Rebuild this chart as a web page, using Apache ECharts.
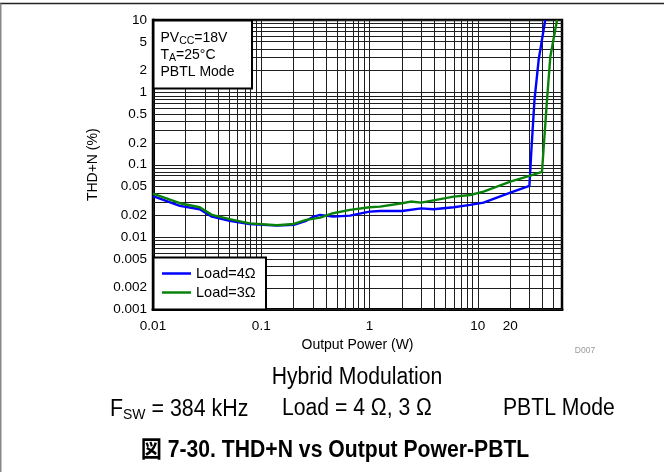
<!DOCTYPE html>
<html>
<head>
<meta charset="utf-8">
<script src="https://cdn.jsdelivr.net/npm/echarts@6/dist/echarts.min.js"></script>
<style>
html,body{margin:0;padding:0;background:#fff;}
#chart{width:664px;height:472px;}
</style>
</head>
<body>
<div id="chart"></div>
<script>
// ---- data ----
const seriesNames = ['Load=4Ω', 'Load=3Ω'];
const power4 = [0.01, 0.0177, 0.027, 0.035, 0.051, 0.078, 0.14, 0.2, 0.26, 0.3, 0.35, 0.46, 0.66, 1.0, 1.25, 2.0, 3.0, 3.9, 6.0, 8.5, 11.3, 20, 30, 31.3, 33.4, 36.5, 42];
const thd4   = [0.037, 0.027, 0.0243, 0.0192, 0.0168, 0.0152, 0.0144, 0.0148, 0.0168, 0.019, 0.0203, 0.0192, 0.0198, 0.0225, 0.023, 0.023, 0.025, 0.0243, 0.0259, 0.0279, 0.030, 0.0412, 0.051, 0.16, 0.78, 2.8, 10];
const power3 = [0.01, 0.0177, 0.027, 0.035, 0.051, 0.078, 0.14, 0.2, 0.26, 0.35, 0.46, 0.66, 1.0, 1.25, 2.0, 2.4, 3.0, 6.0, 8.5, 11.3, 20, 30, 39.2, 43.6, 46.8, 54];
const thd3   = [0.040, 0.0294, 0.0259, 0.0203, 0.0177, 0.0155, 0.0146, 0.0152, 0.0173, 0.0186, 0.0214, 0.0238, 0.0259, 0.0264, 0.0294, 0.031, 0.030, 0.0363, 0.0382, 0.0425, 0.0585, 0.070, 0.080, 0.785, 3.1, 10];

// ---- axes ----
const xRange = [0.01, 60];
const yRange = [0.001, 10];
const xTickLabels = [0.01, 0.1, 1, 10, 20];
const yTickLabels = [10, 5, 2, 1, 0.5, 0.2, 0.1, 0.05, 0.02, 0.01, 0.005, 0.002, 0.001];
const xDecades = [0.01, 0.1, 1, 10];
const yDecades = [0.001, 0.01, 0.1, 1];
const gridMultipliers = [1, 2, 3, 4, 5, 6, 7, 8, 9];

const L = Math.log10;
function labelFor(list, v) {
  let best = list[0], bd = Infinity;
  list.forEach(t => { const d = Math.abs(L(t) - v); if (d < bd) { bd = d; best = t; } });
  return String(best);
}
function gridValues(decades, range) {
  const out = [];
  decades.forEach(d => gridMultipliers.forEach(m => {
    const v = m * d;
    if (v >= range[0] * 0.9999 && v <= range[1] * 1.0001) out.push(v);
  }));
  out.push(range[1]);
  return out;
}
const xGrid = gridValues(xDecades, xRange);
const yGrid = gridValues(yDecades, yRange);

const FONT = '"Liberation Sans", Arial, Helvetica, sans-serif';

const chart = echarts.init(document.getElementById('chart'), null, {renderer: 'canvas'});
const option = {
  animation: false,
  backgroundColor: '#fff',
  grid: {left: 153, top: 20, right: 102, bottom: 162.5, show: true, borderColor: '#000', borderWidth: 2.5, backgroundColor: 'transparent'},
  xAxis: {
    type: 'value', min: L(xRange[0]), max: L(xRange[1]),
    name: 'Output Power (W)', nameLocation: 'middle', nameGap: 27,
    nameTextStyle: {fontFamily: FONT, fontSize: 14, color: '#000'},
    axisLine: {show: true, onZero: false, lineStyle: {color: '#000', width: 3}},
    axisTick: {show: false},
    splitLine: {show: false},
    axisLabel: {customValues: xTickLabels.map(L), formatter: v => labelFor(xTickLabels, v),
      fontFamily: FONT, fontSize: 13.5, color: '#000', margin: 10}
  },
  yAxis: {
    type: 'value', min: L(yRange[0]), max: L(yRange[1]),
    name: 'THD+N (%)', nameLocation: 'middle', nameGap: 53, nameRotate: 90,
    nameTextStyle: {fontFamily: FONT, fontSize: 14, color: '#000'},
    axisLine: {show: true, onZero: false, lineStyle: {color: '#000', width: 3}},
    axisTick: {show: false},
    splitLine: {show: false},
    axisLabel: {customValues: yTickLabels.map(L), formatter: v => labelFor(yTickLabels, v),
      fontFamily: FONT, fontSize: 13.5, color: '#000', margin: 6}
  },
  legend: {
    data: seriesNames, orient: 'vertical', left: 162, top: 266, z: 30,
    icon: 'rect', itemWidth: 29, itemHeight: 2.5, itemGap: 4, padding: 0,
    textStyle: {fontFamily: FONT, fontSize: 14.5, color: '#000', lineHeight: 14}
  },
  series: [
    {
      type: 'line', name: 'grid', data: [], silent: true, z: 1,
      markLine: {
        z: 1, silent: true, symbol: ['none', 'none'], label: {show: false}, animation: false,
        lineStyle: {color: '#1e1e1e', width: 1, type: 'solid'},
        data: xGrid.map(v => ({xAxis: L(v)})).concat(yGrid.map(v => ({yAxis: L(v)})))
      }
    },
    {
      type: 'line', name: seriesNames[0], z: 3, symbol: 'none', showSymbol: false,
      lineStyle: {color: '#0000ff', width: 2.4}, itemStyle: {color: '#0000ff'},
      data: power4.map((p, i) => [L(p), L(thd4[i])])
    },
    {
      type: 'line', name: seriesNames[1], z: 3, symbol: 'none', showSymbol: false,
      lineStyle: {color: '#0a820a', width: 2.4}, itemStyle: {color: '#0a820a'},
      data: power3.map((p, i) => [L(p), L(thd3[i])])
    }
  ],
  graphic: {
    z: 20,
    elements: [
    // outer frame
    {type: 'line', z: 20, shape: {x1: 0, y1: 3.5, x2: 664, y2: 3.5}, style: {stroke: '#222', lineWidth: 1.5}},
    {type: 'line', z: 20, shape: {x1: 0.75, y1: 3.5, x2: 0.75, y2: 472}, style: {stroke: '#888', lineWidth: 1.5}},
    // condition box
    {type: 'rect', z: 20, shape: {x: 153.5, y: 20.5, width: 98.5, height: 68}, style: {fill: '#fff', stroke: '#000', lineWidth: 2}},
    {type: 'text', z: 21, x: 160.5, y: 29.5, style: {
      text: '{m|PV}{s|CC}{m|=18V}\n{m|T}{s|A}{m|=25°C}\n{m|PBTL Mode}',
      fontFamily: FONT, fill: '#000',
      rich: {
        m: {fontFamily: FONT, fontSize: 14, lineHeight: 17, verticalAlign: 'middle', fill: '#000'},
        s: {fontFamily: FONT, fontSize: 10.5, lineHeight: 10, verticalAlign: 'bottom', fill: '#000'}
      }
    }},
    // legend box
    {type: 'rect', z: 20, shape: {x: 153.5, y: 257.5, width: 112.5, height: 52}, style: {fill: '#fff', stroke: '#000', lineWidth: 2}},
    // figure id
    {type: 'text', z: 21, x: 585, y: 351, style: {text: 'D007', fontFamily: FONT, fontSize: 8.5, fill: '#9a9a9a', textAlign: 'center', textVerticalAlign: 'middle'}},
    // bottom text
    {type: 'text', z: 21, x: 357, y: 378, scaleX: 0.92, style: {text: 'Hybrid Modulation', fontFamily: FONT, fontSize: 23, fill: '#000', textAlign: 'center', textVerticalAlign: 'middle'}},
    {type: 'text', z: 21, x: 110, y: 397, scaleX: 0.93, style: {
      text: '{m|F}{s|SW}{m| = 384 kHz}', fontFamily: FONT, fill: '#000', textAlign: 'left',
      rich: {
        m: {fontFamily: FONT, fontSize: 23, lineHeight: 25, verticalAlign: 'middle', fill: '#000'},
        s: {fontFamily: FONT, fontSize: 15, lineHeight: 15, verticalAlign: 'bottom', fill: '#000'}
      }
    }},
    {type: 'text', z: 21, x: 282, y: 409, scaleX: 0.92, style: {text: 'Load = 4 Ω, 3 Ω', fontFamily: FONT, fontSize: 23, fill: '#000', textAlign: 'left', textVerticalAlign: 'middle'}},
    {type: 'text', z: 21, x: 503, y: 409, scaleX: 0.92, style: {text: 'PBTL Mode', fontFamily: FONT, fontSize: 23, fill: '#000', textAlign: 'left', textVerticalAlign: 'middle'}},
    {type: 'text', z: 21, x: 335, y: 451, scaleX: 0.92, style: {text: '図 7-30. THD+N vs Output Power-PBTL', fontFamily: FONT + ', "Noto Sans CJK JP"', fontSize: 23, fontWeight: 'bold', fill: '#000', textAlign: 'center', textVerticalAlign: 'middle'}}
    ]
  }
};
chart.setOption(option);
</script>
</body>
</html>
